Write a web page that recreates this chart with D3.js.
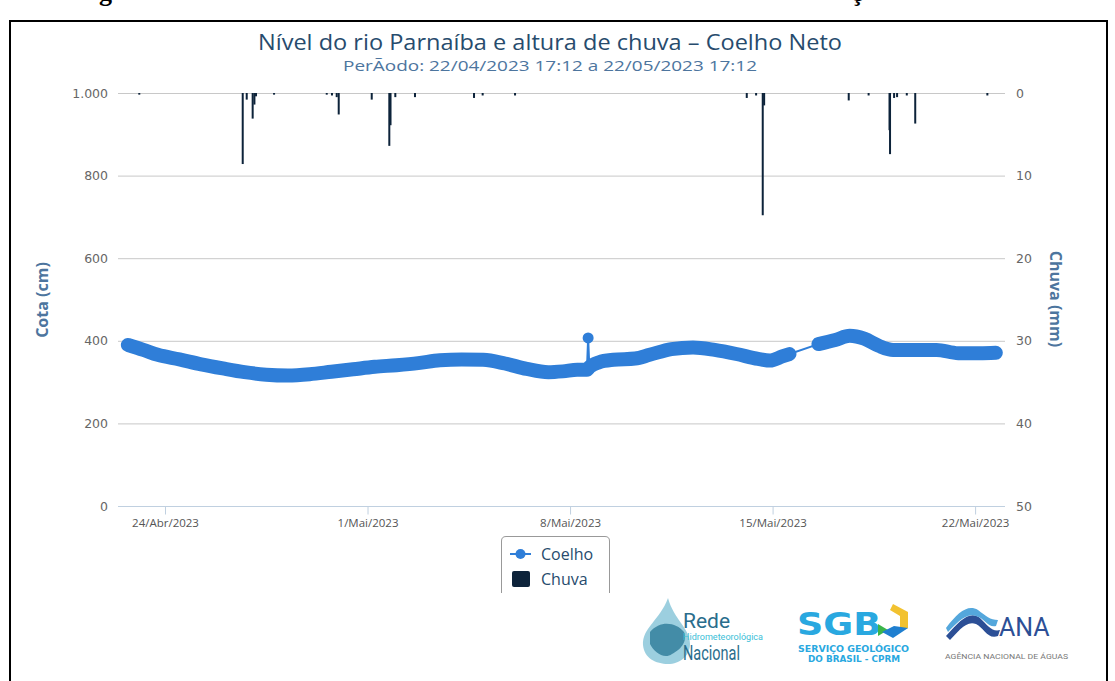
<!DOCTYPE html>
<html>
<head>
<meta charset="utf-8">
<script src="https://cdn.jsdelivr.net/npm/d3@7"></script>
<style>
  body { margin: 0; background: #fff; }
  svg { display: block; font-family: "Open Sans", sans-serif; }
</style>
</head>
<body>
<script>
// Cota (cm) - trecho continuo antes da falha de dados
var cotaDatasA = [
  "2023-04-22 17:12", "2023-04-23 06:00", "2023-04-23 18:00", "2023-04-24 12:00",
  "2023-04-25 06:00", "2023-04-26 00:00", "2023-04-26 18:00", "2023-04-27 12:00",
  "2023-04-28 06:00", "2023-04-29 00:00", "2023-04-29 18:00", "2023-04-30 12:00",
  "2023-05-01 06:00", "2023-05-02 00:00", "2023-05-02 18:00", "2023-05-03 12:00",
  "2023-05-04 06:00", "2023-05-05 00:00", "2023-05-05 18:00", "2023-05-06 12:00",
  "2023-05-07 06:00", "2023-05-07 18:00", "2023-05-08 06:00", "2023-05-08 14:00",
  "2023-05-08 16:00", "2023-05-09 00:00", "2023-05-09 12:00", "2023-05-10 06:00",
  "2023-05-10 18:00", "2023-05-11 12:00", "2023-05-12 06:00", "2023-05-13 00:00",
  "2023-05-13 18:00", "2023-05-14 12:00", "2023-05-14 22:00", "2023-05-15 08:00",
  "2023-05-15 14:00"
];
var cotaValoresA = [
  390, 378, 366, 355,
  343, 333, 324, 318,
  316, 319, 325, 331,
  337, 341, 346, 353,
  355, 354, 345, 332,
  324, 326, 330, 330,
  336, 348, 354, 357,
  366, 380, 384, 378,
  368, 356, 352, 362,
  368
];
// trecho depois da falha
var cotaDatasB = [
  "2023-05-16 14:00", "2023-05-17 04:00", "2023-05-17 16:00", "2023-05-18 04:00",
  "2023-05-18 16:00", "2023-05-19 04:00", "2023-05-19 22:00", "2023-05-20 16:00",
  "2023-05-21 10:00", "2023-05-22 04:00", "2023-05-22 17:12"
];
var cotaValoresB = [392, 402, 412, 405, 388, 378, 378, 378, 370, 370, 371];
// leitura isolada (pico)
var picoData = "2023-05-08 15:00";
var picoValor = 407;

// Chuva (mm)
var chuvaDatas = [
  "2023-04-23 02:40", "2023-04-26 16:28", "2023-04-26 19:47", "2023-04-27 00:43",
  "2023-04-27 02:10", "2023-04-27 03:30", "2023-04-27 18:28", "2023-04-29 14:10",
  "2023-04-29 18:30", "2023-04-29 22:26", "2023-04-30 00:06", "2023-05-01 03:29",
  "2023-05-01 18:04", "2023-05-01 19:04", "2023-05-01 23:03", "2023-05-02 15:22",
  "2023-05-04 16:20", "2023-05-04 23:30", "2023-05-06 02:22", "2023-05-14 02:35",
  "2023-05-14 10:20", "2023-05-14 15:50", "2023-05-14 17:00", "2023-05-17 15:10",
  "2023-05-18 07:40", "2023-05-19 01:00", "2023-05-19 01:26", "2023-05-19 04:48",
  "2023-05-19 07:17", "2023-05-19 15:20", "2023-05-19 22:20", "2023-05-22 10:10"
];
var chuvaValores = [
  0.2, 8.6, 0.8, 3.1,
  1.4, 0.4, 0.2, 0.2,
  0.3, 0.5, 2.6, 0.8,
  6.4, 3.9, 0.5, 0.5,
  0.6, 0.3, 0.3, 0.6,
  0.3, 14.8, 1.5, 0.9,
  0.3, 4.5, 7.4, 0.6,
  0.5, 0.3, 3.7, 0.3
];

// ticks
var xTickDatas = ["2023-04-24 00:00", "2023-05-01 00:00", "2023-05-08 00:00", "2023-05-15 00:00", "2023-05-22 00:00"];
var xTickLabels = ["24/Abr/2023", "1/Mai/2023", "8/Mai/2023", "15/Mai/2023", "22/Mai/2023"];
var cotaTicks = [0, 200, 400, 600, 800, 1000];
var chuvaTicks = [0, 10, 20, 30, 40, 50];

var parse = d3.timeParse("%Y-%m-%d %H:%M");

var svgWidth = 1115;
var svgHeight = 681;
var margin = { top: 93, right: 110, bottom: 175, left: 120 };
var chartWidth = svgWidth - margin.left - margin.right;
var chartHeight = svgHeight - margin.top - margin.bottom;

var svg = d3.select("body").append("svg")
  .attr("width", svgWidth)
  .attr("height", svgHeight);

// moldura do documento
svg.append("path")
  .attr("d", "M10,681 L10,21 L1107,21 L1107,681")
  .attr("fill", "none").attr("stroke", "#000").attr("stroke-width", 2);

// restos da legenda do documento (cortada no topo)
svg.append("text").attr("x", 99).attr("y", 1)
  .attr("font-family", "Liberation Serif").attr("font-weight", "bold")
  .attr("font-size", 26).text("g");
svg.append("text").attr("x", 851).attr("y", 1)
  .attr("font-family", "Liberation Serif").attr("font-weight", "bold")
  .attr("font-size", 26).text("ç");

// titulo
svg.append("text")
  .attr("x", 550).attr("y", 50)
  .attr("text-anchor", "middle")
  .attr("font-size", 21)
  .attr("fill", "#274b6d")
  .attr("textLength", 584).attr("lengthAdjust", "spacingAndGlyphs")
  .text("Nível do rio Parnaíba e altura de chuva – Coelho Neto");
svg.append("text")
  .attr("x", 550).attr("y", 71)
  .attr("text-anchor", "middle")
  .attr("font-size", 15)
  .attr("fill", "#4d759e")
  .attr("textLength", 414).attr("lengthAdjust", "spacingAndGlyphs")
  .text("PerÃodo: 22/04/2023 17:12 a 22/05/2023 17:12");

var chartGroup = svg.append("g")
  .attr("transform", `translate(${margin.left}, ${margin.top})`);

// escalas
var xTimeScale = d3.scaleTime()
  .domain([parse("2023-04-22 10:40"), parse("2023-05-23 00:48")])
  .range([0, chartWidth]);
var yCotaScale = d3.scaleLinear().domain([0, 1000]).range([chartHeight, 0]);
var yChuvaScale = d3.scaleLinear().domain([0, 50]).range([0, chartHeight]);

// grade
chartGroup.selectAll(".grid")
  .data(cotaTicks.filter(d => d > 0))
  .enter().append("line")
  .attr("x1", -2).attr("x2", chartWidth)
  .attr("y1", d => yCotaScale(d) + 0.5).attr("y2", d => yCotaScale(d) + 0.5)
  .attr("stroke", "#c8c8c8").attr("stroke-width", 1);

// eixo x
var bottomAxis = d3.axisBottom(xTimeScale)
  .tickValues(xTickDatas.map(parse))
  .tickFormat((d, i) => xTickLabels[i])
  .tickSize(8).tickSizeOuter(0);
var xAxis = chartGroup.append("g")
  .attr("transform", `translate(0, ${chartHeight + 0.5})`)
  .call(bottomAxis);
xAxis.select(".domain").attr("stroke", "#c0d0e0").attr("d", `M-2,0H${chartWidth}`);
xAxis.selectAll(".tick line").attr("stroke", "#c0d0e0");
xAxis.selectAll(".tick text")
  .attr("y", 12).attr("fill", "#555")
  .attr("font-family", "Open Sans").attr("font-size", 11.5);

// eixo y esquerdo
var leftAxis = d3.axisLeft(yCotaScale)
  .tickValues(cotaTicks)
  .tickFormat(d => d === 1000 ? "1.000" : d)
  .tickSize(0).tickPadding(12);
var yAxis = chartGroup.append("g").call(leftAxis);
yAxis.select(".domain").remove();
yAxis.selectAll(".tick text")
  .attr("fill", "#666").attr("font-family", "DejaVu Sans").attr("font-size", 12.5);

// eixo y direito
var rightAxis = d3.axisRight(yChuvaScale)
  .tickValues(chuvaTicks)
  .tickSize(0).tickPadding(11);
var yAxisR = chartGroup.append("g")
  .attr("transform", `translate(${chartWidth}, 0)`)
  .call(rightAxis);
yAxisR.select(".domain").remove();
yAxisR.selectAll(".tick text")
  .attr("fill", "#666").attr("font-family", "DejaVu Sans").attr("font-size", 12.5);

// titulos dos eixos
chartGroup.append("text")
  .attr("transform", "rotate(-90)")
  .attr("x", -207).attr("y", -72)
  .attr("text-anchor", "middle")
  .attr("fill", "#4d759e").attr("font-weight", "bold")
  .attr("font-size", 16)
  .text("Cota (cm)");
chartGroup.append("text")
  .attr("transform", "rotate(90)")
  .attr("x", 206).attr("y", -(chartWidth + 45))
  .attr("text-anchor", "middle")
  .attr("fill", "#4d759e").attr("font-weight", "bold")
  .attr("font-size", 16)
  .text("Chuva (mm)");

// barras de chuva
var chuva = chuvaDatas.map((d, i) => ({ date: parse(d), value: chuvaValores[i] }));
chartGroup.selectAll(".chuva")
  .data(chuva)
  .enter().append("rect")
  .attr("x", d => xTimeScale(d.date) - 1)
  .attr("y", yChuvaScale(0))
  .attr("width", 2)
  .attr("height", d => yChuvaScale(d.value) - yChuvaScale(0))
  .attr("fill", "#0d233a");

// serie de cota
var trechoA = cotaDatasA.map((d, i) => ({ date: parse(d), value: cotaValoresA[i] }));
var trechoB = cotaDatasB.map((d, i) => ({ date: parse(d), value: cotaValoresB[i] }));
var pico = { date: parse(picoData), value: picoValor };
var todos = trechoA.concat([pico], trechoB).sort((a, b) => a.date - b.date);

var line = d3.line()
  .x(d => xTimeScale(d.date))
  .y(d => yCotaScale(d.value))
  .curve(d3.curveMonotoneX);
var lineReta = d3.line()
  .x(d => xTimeScale(d.date))
  .y(d => yCotaScale(d.value));

chartGroup.append("path")
  .datum(todos)
  .attr("d", lineReta)
  .attr("fill", "none").attr("stroke", "#2f7ed8").attr("stroke-width", 2);

[trechoA, trechoB].forEach(function(trecho) {
  chartGroup.append("path")
    .datum(trecho)
    .attr("d", line)
    .attr("fill", "none").attr("stroke", "#2f7ed8")
    .attr("stroke-width", 14)
    .attr("stroke-linecap", "round").attr("stroke-linejoin", "round");
});

chartGroup.append("circle")
  .attr("cx", xTimeScale(pico.date))
  .attr("cy", yCotaScale(pico.value))
  .attr("r", 5.5)
  .attr("fill", "#2f7ed8");

// legenda (cortada embaixo)
var legend = svg.append("g");
legend.append("path")
  .attr("d", "M501.5,593 V541 Q501.5,536.5 506,536.5 H605 Q609.5,536.5 609.5,541 V593")
  .attr("fill", "none").attr("stroke", "#999").attr("stroke-width", 1);
legend.append("line")
  .attr("x1", 510).attr("x2", 531).attr("y1", 554).attr("y2", 554)
  .attr("stroke", "#2f7ed8").attr("stroke-width", 2);
legend.append("circle")
  .attr("cx", 520.5).attr("cy", 554).attr("r", 5)
  .attr("fill", "#2f7ed8");
legend.append("text")
  .attr("x", 541).attr("y", 560)
  .attr("font-size", 16).attr("fill", "#274b6d")
  .text("Coelho");
legend.append("rect")
  .attr("x", 512).attr("y", 571).attr("width", 18).attr("height", 16)
  .attr("rx", 2)
  .attr("fill", "#0d233a");
legend.append("text")
  .attr("x", 541).attr("y", 585)
  .attr("font-size", 16).attr("fill", "#274b6d")
  .text("Chuva");

// logos (aproximados)
var logos = svg.append("g");
// Rede Hidrometeorologica Nacional
logos.append("path")
  .attr("d", "M668,598 C660,620 642,628 643,645 C644,658 656,664 668,664 C680,664 690,656 690,644 C690,628 674,620 668,598 Z")
  .attr("fill", "#4aa8c4").attr("opacity", 0.55);
logos.append("path")
  .attr("d", "M650,632 C660,620 676,622 684,632 C688,642 680,650 672,654 C664,660 654,652 650,644 Z")
  .attr("fill", "#1e6f8f").attr("opacity", 0.7);
logos.append("text").attr("x", 683).attr("y", 628)
  .attr("font-family", "Liberation Sans Narrow, Roboto").attr("font-size", 21)
  .attr("fill", "#2a6d8c").text("Rede");
logos.append("text").attr("x", 683).attr("y", 640)
  .attr("font-family", "Roboto").attr("font-size", 9.5)
  .attr("fill", "#3cc0d8").attr("textLength", 80).attr("lengthAdjust", "spacingAndGlyphs")
  .text("Hidrometeorológica");
logos.append("text").attr("x", 683).attr("y", 660)
  .attr("font-family", "Roboto").attr("font-size", 20)
  .attr("fill", "#2a6d8c").attr("textLength", 57).attr("lengthAdjust", "spacingAndGlyphs")
  .text("Nacional");

// SGB
logos.append("text").attr("x", 797).attr("y", 635)
  .attr("font-family", "DejaVu Sans").attr("font-weight", "bold").attr("font-size", 32)
  .attr("fill", "#29a8e0").attr("textLength", 84).attr("lengthAdjust", "spacingAndGlyphs")
  .text("SGB");
logos.append("path")
  .attr("d", "M893,604 L908,612 L908,628 L900,632 L900,616 L890,610 Z")
  .attr("fill", "#f2c230");
logos.append("path")
  .attr("d", "M878,624 L888,630 L878,636 Z")
  .attr("fill", "#3bb54a");
logos.append("path")
  .attr("d", "M908,628 L893,638 L882,632 L894,626 Z")
  .attr("fill", "#1f7fd0");
logos.append("text").attr("x", 798).attr("y", 652)
  .attr("font-family", "DejaVu Sans").attr("font-weight", "bold").attr("font-size", 8.5)
  .attr("fill", "#29a8e0").attr("textLength", 111).attr("lengthAdjust", "spacingAndGlyphs")
  .text("SERVIÇO GEOLÓGICO");
logos.append("text").attr("x", 808).attr("y", 662)
  .attr("font-family", "DejaVu Sans").attr("font-weight", "bold").attr("font-size", 8.5)
  .attr("fill", "#29a8e0").attr("textLength", 92).attr("lengthAdjust", "spacingAndGlyphs")
  .text("DO BRASIL - CPRM");

// ANA
logos.append("path")
  .attr("d", "M946,636 C960,620 970,610 980,618 C988,626 992,632 1000,630 L998,636 C988,640 984,628 976,624 C966,620 958,632 950,640 Z")
  .attr("fill", "#2c4f96");
logos.append("path")
  .attr("d", "M946,628 C958,612 968,604 978,610 C986,616 990,620 998,620 L996,626 C988,628 984,618 976,616 C966,612 956,624 948,632 Z")
  .attr("fill", "#54a7dc");
logos.append("text").attr("x", 999).attr("y", 636)
  .attr("font-family", "Roboto").attr("font-size", 25)
  .attr("fill", "#2c4f96").text("ANA");
logos.append("text").attr("x", 945).attr("y", 659)
  .attr("font-family", "Roboto").attr("font-size", 7)
  .attr("fill", "#777").attr("textLength", 123).attr("lengthAdjust", "spacingAndGlyphs")
  .text("AGÊNCIA NACIONAL DE ÁGUAS");
</script>
</body>
</html>
